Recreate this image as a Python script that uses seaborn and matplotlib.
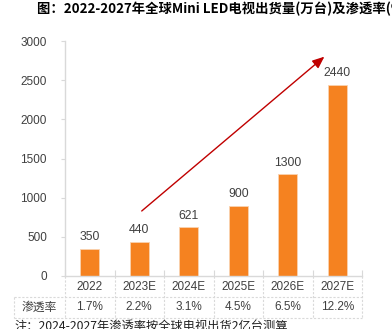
import matplotlib
matplotlib.use("Agg")
import matplotlib.pyplot as plt
import seaborn as sns
import pandas as pd

# Data
years = ["2022", "2023E", "2024E", "2025E", "2026E", "2027E"]
shipments = [350, 440, 621, 900, 1300, 2440]          # 万台
penetration = ["1.7%", "2.2%", "3.1%", "4.5%", "6.5%", "12.2%"]
y_ticks = [0, 500, 1000, 1500, 2000, 2500, 3000]

title = "图：2022-2027年全球Mini LED电视出货量(万台)及渗透率(%)"
row_label = "渗透率"
note = "注：2024-2027年渗透率按全球电视出货2亿台测算"

sns.set_theme(style="white")
plt.rcParams["font.family"] = ["Liberation Sans", "Noto Sans CJK SC", "DejaVu Sans"]

BAR = "#F58220"
TXT = "#404040"
GRID = "#D9D9D9"

df = pd.DataFrame({"year": years, "shipments": shipments})

fig = plt.figure(figsize=(3.92, 3.29), dpi=100)
ax = fig.add_axes([65 / 392, 1 - 276 / 329, 297 / 392, 235 / 329])

sns.barplot(data=df, x="year", y="shipments", color=BAR, width=0.39,
            saturation=1, ax=ax)
for p in ax.patches:
    p.set_edgecolor("#FAD3B0")
    p.set_linewidth(0.6)

ax.bar_label(ax.containers[0], labels=[str(v) for v in shipments],
             padding=4, fontsize=8.8, color=TXT)

ax.set_xlim(-0.5, len(years) - 0.5)
ax.set_ylim(0, 3000)
ax.set_yticks(y_ticks)
ax.set_yticklabels([str(t) for t in y_ticks], fontsize=8.5, color=TXT)
ax.tick_params(axis="y", length=3, color=GRID, width=0.8, pad=10, left=True)
ax.set_xticks([i - 0.5 for i in range(len(years) + 1)])
ax.set_xticklabels([])
ax.tick_params(axis="x", length=4, color=GRID, width=0.8, bottom=True,
               direction="in")
ax.set_xlabel("")
ax.set_ylabel("")
for side in ("top", "right"):
    ax.spines[side].set_visible(False)
for side in ("left", "bottom"):
    ax.spines[side].set_color(GRID)
    ax.spines[side].set_linewidth(1.0)

# Data table under the axis: year row and penetration row
tr = ax.get_xaxis_transform()
row1_y, row2_y = -0.047, -0.134
line_mid, line_bot = -0.0894, -0.1787
left_x = -1.53
for i, (yr, pen) in enumerate(zip(years, penetration)):
    ax.text(i, row1_y, yr, transform=tr, ha="center", va="center",
            fontsize=8.5, color=TXT, clip_on=False)
    ax.text(i, row2_y, pen, transform=tr, ha="center", va="center",
            fontsize=8.5, color=TXT, clip_on=False)
ax.text((left_x - 0.5) / 2, row2_y, row_label, transform=tr, ha="center",
        va="center", fontsize=8.5, color=TXT, clip_on=False,
        family=["Noto Sans CJK SC", "DejaVu Sans"])

dash = dict(color=GRID, linewidth=0.8, linestyle=(0, (2, 1.5)),
            transform=tr, clip_on=False)
for b in range(len(years) + 1):
    ax.plot([b - 0.5, b - 0.5], [0, line_bot], **dash)
ax.plot([left_x, left_x], [line_mid, line_bot], **dash)
ax.plot([left_x, len(years) - 0.5], [line_mid, line_mid], **dash)
ax.plot([left_x, len(years) - 0.5], [line_bot, line_bot], **dash)

# Growth trend arrow
ax.annotate("", xy=(4.74, 2800), xytext=(1.05, 830),
            arrowprops=dict(arrowstyle="-|>,head_length=0.6,head_width=0.25",
                            color="#C00000", lw=1.0, shrinkA=0, shrinkB=0),
            annotation_clip=False)

fig.text(37 / 392, 1 - 9 / 329, title, ha="left", va="center",
         fontsize=9.6, fontweight="bold", color="#000000",
         family=["Noto Sans CJK SC", "DejaVu Sans"])
fig.text(14 / 392, 1 - 326 / 329, note, ha="left", va="center",
         fontsize=8.8, color="#202020",
         family=["Noto Sans CJK SC", "DejaVu Sans"])

fig.savefig("out.png", dpi=100)
